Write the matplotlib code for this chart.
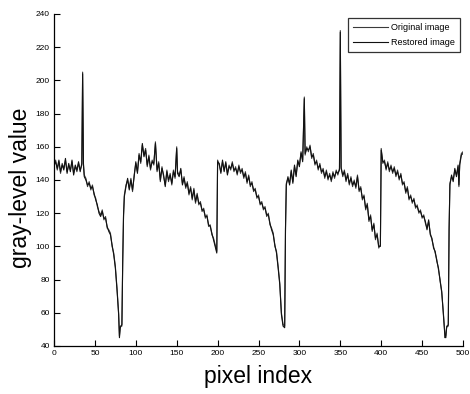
import matplotlib
matplotlib.use("Agg")
import matplotlib.pyplot as plt

plt.rcParams['font.family'] = ['Liberation Sans', 'DejaVu Sans']

pixel_idx = [0, 2, 4, 6, 8, 10, 12, 14, 16, 18, 20, 22, 24, 26, 28, 30, 32, 34, 35, 36, 37, 39,
             41, 43, 45, 47, 49, 51, 53, 55, 57, 59, 61, 63, 65, 67, 69, 71, 73, 75, 77, 79, 80,
             81, 83, 84, 85, 86, 88, 90, 92, 94, 96, 98, 100, 102, 104, 106, 108, 110, 112, 114,
             116, 118, 120, 122, 124, 126, 128, 130, 132, 134, 136, 138, 140, 142, 144, 146, 148,
             150, 151, 153, 155, 157, 159, 161, 163, 165, 167, 169, 171, 173, 175, 177, 179, 181,
             183, 185, 187, 189, 191, 193, 195, 197, 199, 200, 202, 204, 206, 208, 210, 212, 214,
             216, 218, 220, 222, 224, 226, 228, 230, 232, 234, 236, 238, 240, 242, 244, 246, 248,
             250, 252, 254, 256, 258, 260, 262, 264, 266, 268, 270, 272, 274, 276, 278, 280, 282,
             283, 284, 286, 288, 290, 292, 294, 296, 298, 300, 302, 304, 306, 307, 309, 311, 313,
             315, 317, 319, 321, 323, 325, 327, 329, 331, 333, 335, 337, 339, 341, 343, 345, 347,
             349, 350, 351, 353, 355, 357, 359, 361, 363, 365, 367, 369, 371, 373, 375, 377, 379,
             381, 383, 385, 387, 389, 391, 393, 395, 397, 399, 400, 402, 404, 406, 408, 410, 412,
             414, 416, 418, 420, 422, 424, 426, 428, 430, 432, 434, 436, 438, 440, 442, 444, 446,
             448, 450, 452, 454, 456, 458, 460, 462, 464, 466, 468, 470, 472, 474, 476, 478, 479,
             480, 482, 483, 484, 486, 488, 490, 492, 494, 495, 496, 498, 500]

original = [148, 152, 146, 151, 144, 150, 147, 152, 145, 149, 146, 151, 144, 148, 145, 150, 146, 149, 205, 150, 143, 141,
            136, 139, 134, 137, 131, 129, 124, 121, 119, 122, 116, 118, 111, 110, 108, 100, 96, 88, 75, 60, 46,
            52, 52, 90, 118, 131, 137, 140, 135, 141, 133, 143, 150, 145, 156, 150, 161, 155, 159, 148,
            155, 146, 152, 149, 163, 145, 151, 139, 148, 142, 137, 146, 139, 144, 137, 146, 141,
            160, 145, 143, 146, 138, 142, 135, 139, 131, 136, 128, 135, 126, 132, 125, 127, 121,
            123, 117, 119, 112, 113, 107, 105, 101, 97, 152, 149, 145, 151, 146, 150, 144, 149,
            146, 151, 145, 148, 143, 149, 144, 147, 141, 145, 138, 143, 136, 139, 133, 135, 129,
            131, 125, 127, 122, 124, 118, 120, 113, 111, 108, 100, 97, 88, 78, 60, 53, 52,
            110, 138, 141, 138, 145, 139, 148, 143, 151, 149, 156, 152, 190, 155, 160, 157, 161,
            153, 156, 149, 152, 146, 150, 144, 147, 141, 146, 140, 144, 139, 145, 141, 146, 143,
            147, 230, 148, 142, 146, 139, 144, 137, 142, 136, 140, 135, 143, 133, 136, 128, 131,
            122, 126, 115, 119, 109, 114, 104, 108, 99, 101, 159, 150, 152, 146, 151, 145, 149,
            144, 148, 142, 146, 140, 144, 137, 139, 132, 136, 128, 131, 126, 129, 123, 125, 120,
            122, 117, 119, 114, 111, 115, 108, 104, 100, 96, 92, 86, 80, 72, 60, 46, 45,
            52, 52, 110, 138, 142, 140, 146, 143, 148, 136, 150, 156, 157]

restored = [149, 151, 147, 152, 145, 149, 146, 153, 144, 150, 145, 152, 143, 149, 146, 151, 145, 150, 204, 149, 142, 140,
            137, 138, 135, 136, 132, 128, 125, 120, 118, 121, 117, 117, 112, 109, 107, 101, 95, 87, 74, 59, 45,
            51, 53, 91, 119, 130, 136, 141, 134, 140, 134, 142, 151, 144, 155, 151, 162, 154, 158, 149,
            154, 147, 151, 150, 162, 146, 150, 140, 147, 143, 136, 145, 140, 143, 138, 145, 142,
            159, 144, 142, 147, 137, 141, 136, 138, 132, 135, 129, 134, 127, 131, 126, 126, 122,
            122, 118, 118, 113, 112, 108, 104, 100, 96, 151, 150, 144, 152, 145, 151, 143, 148,
            147, 150, 146, 147, 144, 148, 145, 146, 142, 144, 139, 142, 137, 138, 134, 134, 130,
            130, 126, 126, 123, 123, 119, 119, 114, 110, 107, 101, 96, 87, 77, 59, 52, 51,
            111, 137, 142, 137, 146, 138, 149, 142, 152, 148, 157, 151, 189, 156, 159, 158, 160,
            154, 155, 150, 151, 147, 149, 145, 146, 142, 145, 141, 143, 140, 144, 142, 145, 144,
            146, 229, 147, 143, 145, 140, 143, 138, 141, 137, 139, 136, 142, 134, 135, 129, 130,
            123, 125, 116, 118, 110, 113, 105, 107, 100, 100, 158, 151, 151, 147, 150, 146, 148,
            145, 147, 143, 145, 141, 143, 138, 138, 133, 135, 129, 130, 127, 128, 124, 124, 121,
            121, 118, 118, 115, 110, 116, 107, 105, 99, 97, 91, 87, 79, 73, 59, 45, 46,
            51, 53, 111, 137, 143, 139, 147, 142, 149, 137, 149, 155, 156]

x_ticks = [0, 50, 100, 150, 200, 250, 300, 350, 400, 450, 500]
y_ticks = [40, 60, 80, 100, 120, 140, 160, 180, 200, 220, 240]

fig = plt.figure(figsize=(4.7, 3.94), dpi=100)
ax = fig.add_axes([54 / 470, 1 - 346 / 394, (463 - 54) / 470, (346 - 14) / 394])

ax.plot(pixel_idx, original, color='#3a3a3a', lw=0.8, label='Original image')
ax.plot(pixel_idx, restored, color='#111111', lw=0.8, label='Restored image')

ax.set_xlim(0, 500)
ax.set_ylim(40, 240)
ax.set_xticks(x_ticks)
ax.set_yticks(y_ticks)
ax.tick_params(direction='in', length=4, width=0.8, labelsize=6, pad=3)
for s in ['top', 'right']:
    ax.spines[s].set_visible(False)
for s in ['left', 'bottom']:
    ax.spines[s].set_linewidth(0.9)

ax.set_xlabel('pixel index', fontsize=16.5, labelpad=6)
fig.text(21 / 470, 1 - 188 / 394, 'gray-level value', fontsize=16.5, rotation=90,
         ha='center', va='center')

leg = ax.legend(loc='upper right', bbox_to_anchor=(460 / 470, 1 - 18 / 394),
                bbox_transform=fig.transFigure, borderaxespad=0, fontsize=6.5,
                frameon=True, fancybox=False, handlelength=3.8, labelspacing=0.7,
                borderpad=0.55, handletextpad=0.4)
leg.get_frame().set_edgecolor('black')
leg.get_frame().set_linewidth(0.9)

fig.savefig('out.png', dpi=100)
